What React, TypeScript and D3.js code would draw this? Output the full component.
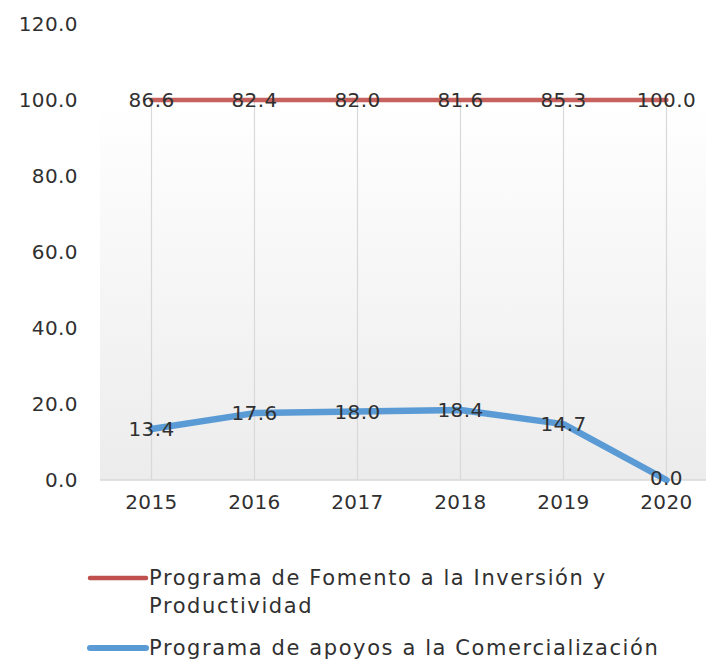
import { useEffect, useRef } from 'react';
import * as d3 from 'd3';

const years = ['2015', '2016', '2017', '2018', '2019', '2020'];
const fomento = [86.6, 82.4, 82.0, 81.6, 85.3, 100.0];
const apoyos = [13.4, 17.6, 18.0, 18.4, 14.7, 0.0];
const yTicks = [0, 20, 40, 60, 80, 100, 120];
const legendLabels = [
  ['Programa de Fomento a la Inversión y', 'Productividad'],
  ['Programa de apoyos a la Comercialización'],
];

const W = 706;
const H = 664;
const FONT = "'DejaVu Sans', sans-serif";
const TEXT = '#303030';

const App = () => {
  const svgRef = useRef<SVGSVGElement | null>(null);

  useEffect(() => {
    document.body.style.margin = '0';
    if (!svgRef.current) return;
    const svg = d3.select(svgRef.current);
    svg.selectAll('*').remove();

    const left = 100;
    const right = 718;
    const x = d3.scalePoint<string>().domain(years).range([left, right]).padding(0.5);
    const y = d3.scaleLinear().domain([0, 120]).range([480, 24]);

    // stacked: blue at the bottom, red on top of it
    const stacked = years.map((yr, i) => ({
      year: yr,
      low: apoyos[i],
      top: apoyos[i] + fomento[i],
    }));

    const defs = svg.append('defs');
    const grad = defs.append('linearGradient')
      .attr('id', 'bg')
      .attr('x1', 0).attr('y1', 0).attr('x2', 0).attr('y2', 1);
    grad.append('stop').attr('offset', '0%').attr('stop-color', '#ffffff');
    grad.append('stop').attr('offset', '100%').attr('stop-color', '#ececec');

    svg.append('rect')
      .attr('x', left)
      .attr('y', y(100))
      .attr('width', W - left)
      .attr('height', y(0) - y(100))
      .attr('fill', 'url(#bg)');

    // vertical grid lines
    svg.append('g')
      .selectAll('line')
      .data(years)
      .enter()
      .append('line')
      .attr('x1', d => x(d)!)
      .attr('x2', d => x(d)!)
      .attr('y1', y(100))
      .attr('y2', y(0))
      .attr('stroke', '#d9d9d9')
      .attr('stroke-width', 1.2);

    // baseline
    svg.append('line')
      .attr('x1', left)
      .attr('x2', W)
      .attr('y1', y(0))
      .attr('y2', y(0))
      .attr('stroke', '#d9d9d9')
      .attr('stroke-width', 1.5);

    const label = (sel: d3.Selection<SVGTextElement, any, any, any>) =>
      sel
        .attr('fill', TEXT)
        .style('font-family', FONT)
        .style('font-size', '20px')
        .style('letter-spacing', '0.4px')
        .attr('dy', '0.35em');

    // y tick labels
    svg.append('g')
      .selectAll('text')
      .data(yTicks)
      .enter()
      .append('text')
      .attr('x', 78)
      .attr('y', d => y(d))
      .attr('text-anchor', 'end')
      .call(label)
      .text(d => d.toFixed(1));

    // x tick labels
    svg.append('g')
      .selectAll('text')
      .data(years)
      .enter()
      .append('text')
      .attr('x', d => x(d)!)
      .attr('y', 502)
      .attr('text-anchor', 'middle')
      .call(label)
      .text(d => d);

    const redLine = d3.line<typeof stacked[0]>()
      .x(d => x(d.year)!)
      .y(d => y(d.top));

    const blueLine = d3.line<typeof stacked[0]>()
      .x(d => x(d.year)!)
      .y(d => y(d.low));

    svg.append('path')
      .datum(stacked)
      .attr('d', redLine)
      .attr('fill', 'none')
      .attr('stroke', '#c0504d')
      .attr('stroke-opacity', 0.9)
      .attr('stroke-width', 4.5)
      .attr('stroke-linecap', 'round');

    svg.append('path')
      .datum(stacked)
      .attr('d', blueLine)
      .attr('fill', 'none')
      .attr('stroke', '#5b9bd5')
      .attr('stroke-width', 6.5)
      .attr('stroke-linejoin', 'round')
      .attr('stroke-linecap', 'round');

    // data labels
    svg.append('g')
      .selectAll('text')
      .data(stacked)
      .enter()
      .append('text')
      .attr('x', d => x(d.year)!)
      .attr('y', d => y(d.top))
      .attr('text-anchor', 'middle')
      .call(label)
      .text((d, i) => fomento[i].toFixed(1));

    svg.append('g')
      .selectAll('text')
      .data(stacked)
      .enter()
      .append('text')
      .attr('x', d => x(d.year)!)
      .attr('y', d => y(d.low) - (d.low === 0 ? 2 : 0))
      .attr('text-anchor', 'middle')
      .call(label)
      .text((d, i) => apoyos[i].toFixed(1));

    // legend
    const legendColors = ['#c0504d', '#5b9bd5'];
    const legendY = [578, 648];
    legendLabels.forEach((lines, i) => {
      const g = svg.append('g');
      g.append('line')
        .attr('x1', 90)
        .attr('x2', 146)
        .attr('y1', legendY[i])
        .attr('y2', legendY[i])
        .attr('stroke', legendColors[i])
        .attr('stroke-width', i === 0 ? 4.5 : 6)
        .attr('stroke-linecap', 'round');
      g.selectAll('text')
        .data(lines)
        .enter()
        .append('text')
        .attr('x', 149)
        .attr('y', (d, j) => legendY[i] + j * 28)
        .call(label)
        .style('font-size', '21px')
        .style('letter-spacing', '1.6px')
        .text(d => d);
    });
  }, []);

  return <svg ref={svgRef} width={W} height={H} style={{ display: 'block' }} />;
};

export default App;
